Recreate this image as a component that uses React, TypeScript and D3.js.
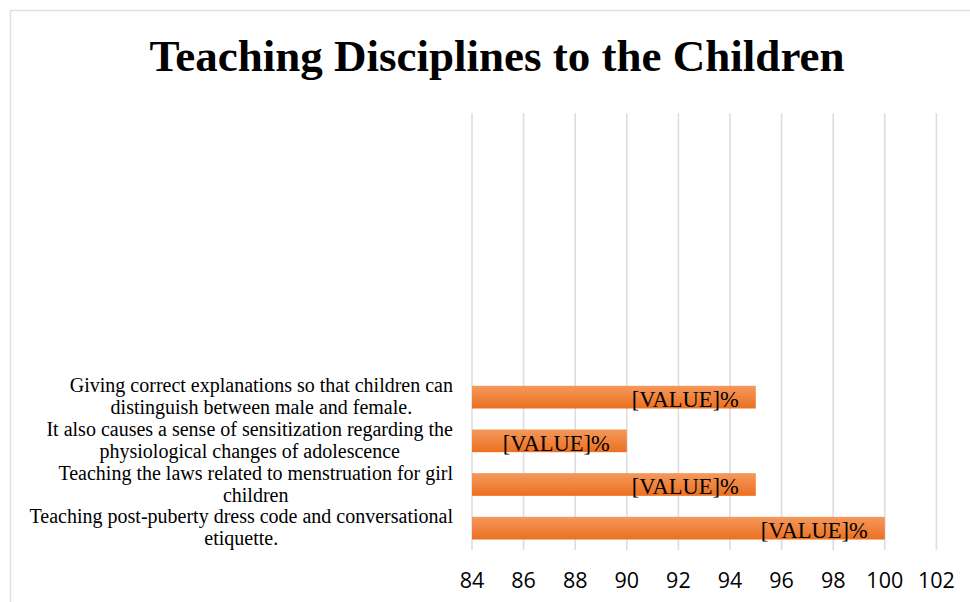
import React, { useEffect, useRef } from "react";
import * as d3 from "d3";

// Data (bottom-to-top order as drawn by the category axis)
const categoryLines: string[][] = [
  ["Teaching post-puberty dress code and conversational", "etiquette."],
  ["Teaching the laws related to menstruation for girl", "children"],
  ["It also causes a sense of sensitization regarding the", "physiological changes of adolescence"],
  ["Giving correct explanations so that children can", "distinguish between male and female."],
  [], [], [], [], [], [],
];
const values: (number | null)[] = [100, 95, 90, 95, null, null, null, null, null, null];
const xTicks: number[] = [84, 86, 88, 90, 92, 94, 96, 98, 100, 102];
const titleText = "Teaching Disciplines to the Children";
const valueLabel = "[VALUE]%";

const W = 970;
const H = 602;

export default function App() {
  const ref = useRef<SVGSVGElement>(null);

  useEffect(() => {
    const svg = d3.select(ref.current!);
    svg.selectAll("*").remove();

    const plotLeft = 472;
    const plotRight = 936.4;
    const plotTop = 113.3;
    const plotBottom = 550;

    const x = d3.scaleLinear().domain([84, 102]).range([plotLeft, plotRight]);
    const idx = d3.range(categoryLines.length).map(String);
    const y = d3
      .scaleBand<string>()
      .domain(idx)
      .range([plotBottom, plotTop])
      .paddingInner(0.48)
      .paddingOuter(0.24);

    const defs = svg.append("defs");
    const grad = defs
      .append("linearGradient")
      .attr("id", "barGrad")
      .attr("x1", 0)
      .attr("y1", 0)
      .attr("x2", 0)
      .attr("y2", 1);
    grad.append("stop").attr("offset", "0%").attr("stop-color", "#f4995d");
    grad.append("stop").attr("offset", "100%").attr("stop-color", "#ec7020");

    svg.append("rect").attr("x", 0).attr("y", 0).attr("width", W).attr("height", H).attr("fill", "#fff");

    // chart border
    svg
      .append("rect")
      .attr("x", 10.5)
      .attr("y", 10.5)
      .attr("width", 1000)
      .attr("height", 1000)
      .attr("fill", "none")
      .attr("stroke", "#dde1e7")
      .attr("stroke-width", 1.5);

    // title
    svg
      .append("text")
      .attr("x", 497)
      .attr("y", 71)
      .attr("text-anchor", "middle")
      .attr("font-family", "'Liberation Serif', 'Times New Roman', serif")
      .attr("font-weight", "bold")
      .attr("font-size", 45)
      .attr("fill", "#000")
      .text(titleText);

    // gridlines
    svg
      .append("g")
      .selectAll("line")
      .data(xTicks)
      .join("line")
      .attr("x1", (d) => x(d))
      .attr("x2", (d) => x(d))
      .attr("y1", plotTop)
      .attr("y2", plotBottom)
      .attr("stroke", "#dadee4")
      .attr("stroke-width", 1.6);

    // tick labels
    svg
      .append("g")
      .selectAll("text")
      .data(xTicks)
      .join("text")
      .attr("x", (d) => x(d))
      .attr("y", 588)
      .attr("text-anchor", "middle")
      .attr("font-family", "'Open Sans', 'Noto Sans', sans-serif")
      .attr("font-size", 21.5)
      .attr("fill", "#000")
      .text((d) => String(d));

    // bars
    const barData = values
      .map((v, i) => ({ v, i }))
      .filter((d) => d.v !== null) as { v: number; i: number }[];

    svg
      .append("g")
      .selectAll("rect")
      .data(barData)
      .join("rect")
      .attr("x", x(84))
      .attr("y", (d) => y(String(d.i))!)
      .attr("width", (d) => x(d.v) - x(84))
      .attr("height", y.bandwidth())
      .attr("fill", "url(#barGrad)");

    // value labels
    svg
      .append("g")
      .selectAll("text")
      .data(barData)
      .join("text")
      .attr("x", (d) => x(d.v) - 17)
      .attr("y", (d) => y(String(d.i))! + y.bandwidth() / 2 + 10)
      .attr("text-anchor", "end")
      .attr("font-family", "'Liberation Serif', 'Times New Roman', serif")
      .attr("font-size", 22.5)
      .attr("fill", "#000")
      .text(valueLabel);

    // category labels (wrapped, centered block, right-aligned to axis)
    const labelRight = 453;
    const lineH = 22;
    const catG = svg.append("g");
    categoryLines.forEach((lines, i) => {
      if (!lines.length) return;
      const cy = y(String(i))! + y.bandwidth() / 2;
      const g = catG.append("g");
      const texts = lines.map((ln, j) =>
        g
          .append("text")
          .attr("y", cy - ((lines.length - 1) * lineH) / 2 + j * lineH + 6.3)
          .attr("text-anchor", "middle")
          .attr("font-family", "'Liberation Serif', 'Times New Roman', serif")
          .attr("font-size", 20)
          .attr("fill", "#000")
          .text(ln)
      );
      const maxW = d3.max(texts, (t) => (t.node() as SVGTextElement).getComputedTextLength()) || 0;
      texts.forEach((t) => t.attr("x", labelRight - maxW / 2));
    });
  }, []);

  return (
    <svg
      ref={ref}
      width={W}
      height={H}
      style={{ position: "absolute", left: 0, top: 0, display: "block" }}
    />
  );
}
